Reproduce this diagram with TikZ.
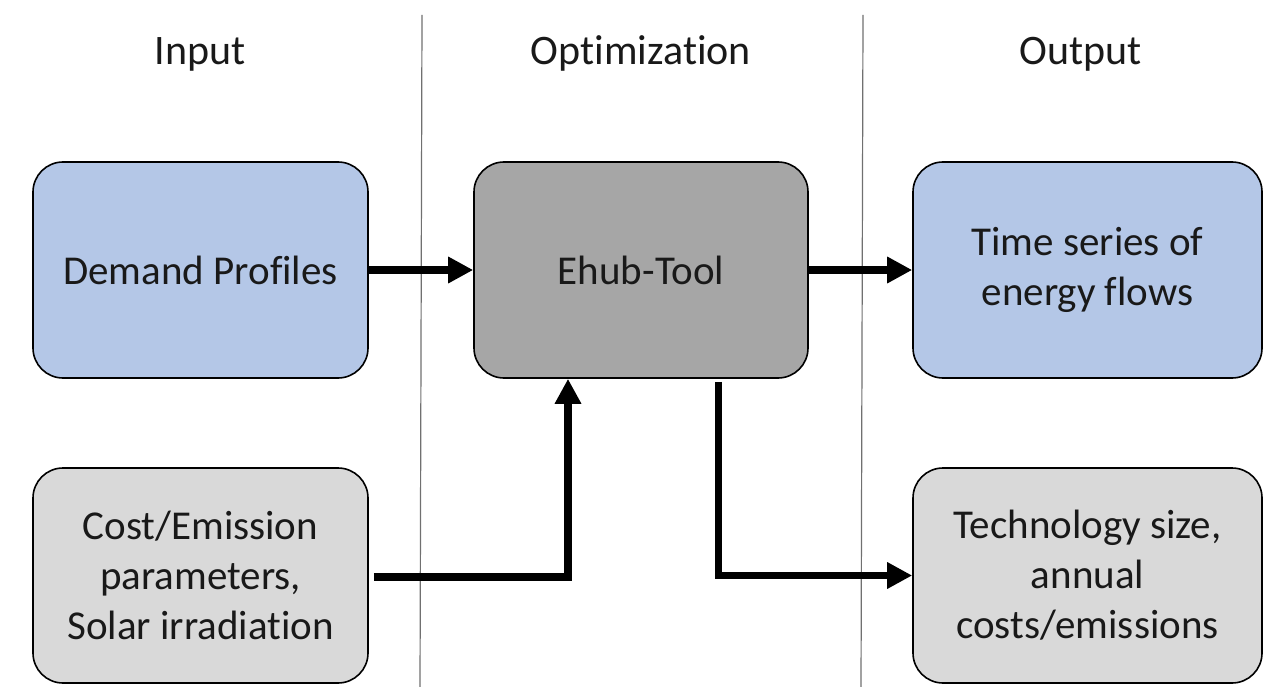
\documentclass[tikz,border=0pt]{standalone}
\usepackage{fontspec}
\setmainfont[RawFeature={-liga;-clig;-dlig}]{Carlito}
\usetikzlibrary{arrows.meta,calc}
\definecolor{boxblue}{HTML}{B4C7E7}
\definecolor{boxdark}{HTML}{A6A6A6}
\definecolor{boxlight}{HTML}{D9D9D9}
\definecolor{sepgray}{HTML}{707070}
\tikzset{
  blk/.style={draw=black, line width=1.6pt, rounded corners=30pt, inner sep=0pt,
    align=center, font=\fontsize{41}{50}\selectfont, text=black!90},
  hdr/.style={anchor=base, font=\fontsize{42}{50}\selectfont, text=black!90},
  sep/.style={draw=sepgray, line width=1.2pt},
  arr/.style={line width=7.5pt, -{Triangle[length=25pt,width=25pt]}},
  ln/.style={line width=7.5pt}
}
\begin{document}
\begin{tikzpicture}[x=1pt,y=-1pt]
\useasboundingbox (0,0) rectangle (1279,687);
% separators
\coordinate (s1t) at (422,15); \coordinate (s1b) at (420,687);
\coordinate (s2t) at (863,15); \coordinate (s2b) at (861,687);
\draw[sep] (s1t) -- (s1b);
\draw[sep] (s2t) -- (s2b);
% headers
\node[hdr] (hin) at (200,65) {Input};
\node[hdr] (hopt) at (641,65) {Optimization};
\node[hdr] (hout) at (1081,65) {Output};
% boxes
\node[blk, fill=boxblue, minimum width=335pt, minimum height=216pt] (dem) at (200.5,270) {Demand Profiles};
\node[blk, fill=boxdark, minimum width=334pt, minimum height=216pt] (ehub) at (641,270) {Ehub-Tool};
\node[blk, fill=boxblue, minimum width=349pt, minimum height=216pt] (ts) at (1087.5,270) {Time series of\\energy flows};
\node[blk, fill=boxlight, minimum width=335pt, minimum height=215pt] (cost) at (200.5,575.5) {Cost/Emission\\parameters,\\Solar irradiation};
\node[blk, fill=boxlight, minimum width=349pt, minimum height=215pt] (tech) at (1087.5,575.5) {Technology size,\\annual\\costs/emissions};
% connectors
\draw[arr] (dem.east) -- (ehub.west);
\draw[arr] (ehub.east) -- (ts.west);
\coordinate (cin) at ([xshift=-73pt]ehub.south);
\coordinate (cout) at ([xshift=77.5pt]ehub.south);
\draw[arr, line join=miter] ([xshift=5pt,yshift=-1.5pt]cost.east) -| (cin);
\draw[arr, line join=miter] ([yshift=-3pt]cout) |- (tech.west);
\end{tikzpicture}
\end{document}
